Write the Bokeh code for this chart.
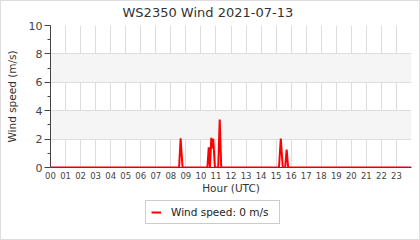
from bokeh.plotting import figure
from bokeh.layouts import column
from bokeh.models import Range1d, FixedTicker, Legend, LegendItem, ColumnDataSource
from bokeh.embed import file_html
from bokeh.resources import INLINE

# Data (hour of day UTC, wind speed m/s)
hours = [0, 8.55, 8.65, 8.78, 10.43, 10.52, 10.6, 10.69, 10.75, 10.82, 10.93,
         11.15, 11.25, 11.35, 15.19, 15.31, 15.44, 15.6, 15.7, 15.8, 24]
speeds = [0, 0, 2.05, 0, 0, 1.43, 0, 2.09, 1.34, 2.02, 0,
          0, 3.38, 0, 0, 2.04, 0, 0, 1.27, 0, 0]
hour_ticks = list(range(24))
hour_labels = ["00", "01", "02", "03", "04", "05", "06", "07", "08", "09", "10", "11",
               "12", "13", "14", "15", "16", "17", "18", "19", "20", "21", "22", "23"]
speed_ticks = [0, 2, 4, 6, 8, 10]
speed_minor = [1, 3, 5, 7, 9]
title_text = "WS2350 Wind 2021-07-13"
series_label = "Wind speed: 0 m/s"

FONT = "DejaVu Sans"
RED = "#ff0000"

p = figure(width=418, height=199, output_backend="svg", toolbar_location=None,
           x_range=Range1d(0, 24), y_range=Range1d(0, 10),
           min_border_left=49, min_border_right=8, min_border_top=24, min_border_bottom=33)
p.outline_line_color = None
p.background_fill_color = "white"
p.border_fill_color = "white"

p.title.text = title_text
p.title.text_font = FONT
p.title.text_font_size = "13px"
p.title.text_font_style = "normal"
p.title.text_color = "#333333"
p.title.align = "left"
p.title.offset = 72
p.title.standoff = 7
p.title.vertical_align = "top"

src = ColumnDataSource(dict(h=hours, v=speeds))
r = p.line("h", "v", source=src, line_color=RED, line_width=2)

# Y axis
ya = p.yaxis[0]
ya.ticker = FixedTicker(ticks=speed_ticks, minor_ticks=speed_minor)
ya.axis_label = "Wind speed (m/s)"
ya.axis_label_text_font = FONT
ya.axis_label_text_font_size = "10.5px"
ya.axis_label_text_font_style = "normal"
ya.axis_label_text_color = "#333333"
ya.axis_label_standoff = 8
ya.major_label_text_font = FONT
ya.major_label_text_font_size = "11px"
ya.major_label_text_color = "#444444"
ya.major_label_standoff = 2
ya.major_tick_out = 6
ya.major_tick_in = 0
ya.minor_tick_out = 3
ya.minor_tick_in = 0
ya.axis_line_color = "#444444"
ya.major_tick_line_color = "#444444"
ya.minor_tick_line_color = "#444444"

# X axis
xa = p.xaxis[0]
xa.ticker = FixedTicker(ticks=hour_ticks, minor_ticks=[])
xa.major_label_overrides = {t: l for t, l in zip(hour_ticks, hour_labels)}
xa.axis_label = "Hour (UTC)"
xa.axis_label_text_font = FONT
xa.axis_label_text_font_size = "10.5px"
xa.axis_label_text_font_style = "normal"
xa.axis_label_text_color = "#333333"
xa.axis_label_standoff = 0
xa.major_label_text_font = FONT
xa.major_label_text_font_size = "8.5px"
xa.major_label_text_color = "#444444"
xa.major_label_standoff = 4
xa.major_tick_out = 0
xa.major_tick_in = 0
xa.minor_tick_line_color = None
xa.axis_line_color = "#444444"

# Grids
p.ygrid.grid_line_color = "#dddddd"
p.ygrid.band_fill_color = "#f5f5f5"
p.ygrid.band_fill_alpha = 1.0
p.xgrid.grid_line_color = "#dddddd"

# Legend strip underneath (same series, drawn out of view, only its legend shows)
p2 = figure(width=418, height=39, output_backend="svg", toolbar_location=None,
            x_range=Range1d(0, 24), y_range=Range1d(-20, -10),
            x_axis_location=None, y_axis_location=None, min_border=0)
p2.outline_line_color = None
p2.grid.visible = False
p2.background_fill_color = "white"
p2.border_fill_color = "white"
r2 = p2.line("h", "v", source=src, line_color=RED, line_width=2)

legend = Legend(items=[LegendItem(label=series_label, renderers=[r2])],
                location=(95, 15), orientation="horizontal",
                label_text_font=FONT, label_text_font_size="10.5px",
                label_text_color="#222222", label_height=10, glyph_height=10,
                glyph_width=10, label_width=103, label_standoff=10,
                padding=5, margin=0, spacing=0,
                border_line_color="#999999", border_line_width=1,
                background_fill_color="white", background_fill_alpha=1)
p2.add_layout(legend)

layout = column(p, p2, spacing=0, styles={"border": "1px solid #dddddd"})

open("out.html", "w").write(file_html(layout, INLINE))
